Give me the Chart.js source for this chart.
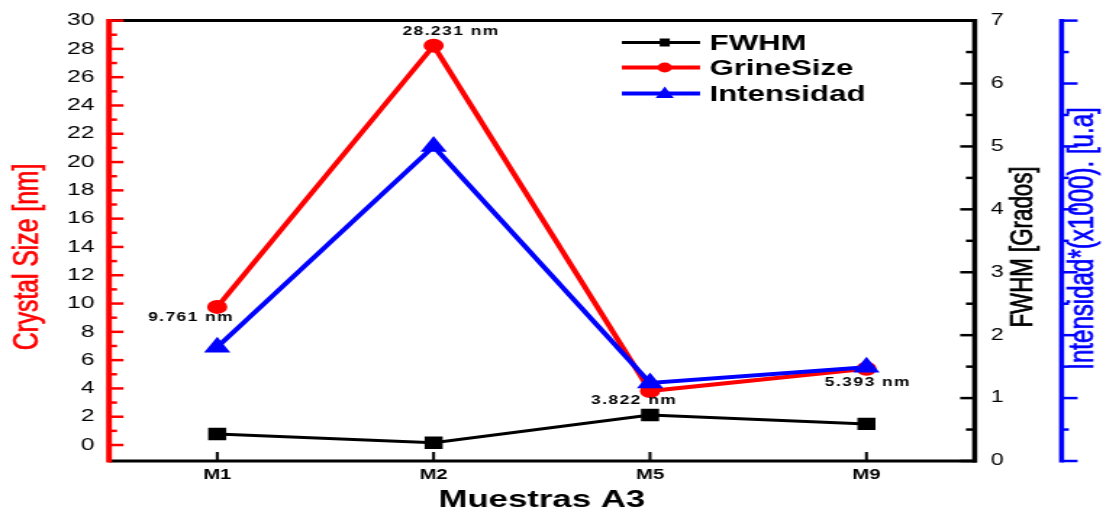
<!DOCTYPE html>
<html>
<head>
<meta charset="utf-8">
<script src="https://cdn.jsdelivr.net/npm/chart.js@4.4.1/dist/chart.umd.min.js"></script>
<style>
  html, body { margin: 0; padding: 0; background: #fff; overflow: hidden; }
  /* the figure is laid out narrow and stretched sideways, like the exported plot */
  #wrap { width: 763px; height: 512px; transform-origin: 0 0; transform: scaleX(1.4495); }
</style>
</head>
<body>
<div id="wrap"><canvas id="chart" width="763" height="512"></canvas></div>
<script>
// Muestras A3
const samples = ['M1', 'M2', 'M5', 'M9'];
const fwhm = [0.43, 0.29, 0.73, 0.59];            // grados
const grainSize = [9.761, 28.231, 3.822, 5.393];  // nm
const intensity = [1.81, 5.0, 1.24, 1.49];        // u.a. (x1000)

// offsets of the nm annotations from their point
const labelDx = [-18, 12, -11, 1];
const labelDy = [14, -11, 13, 17];

const FONT = "'Liberation Sans', Arial, sans-serif";
const RED = '#ff0000';
const BLUE = '#0000ff';
const BLACK = '#000000';

function seg(ctx, x1, y1, x2, y2, color, w) {
    ctx.beginPath();
    ctx.strokeStyle = color;
    ctx.lineWidth = w;
    ctx.moveTo(x1, y1);
    ctx.lineTo(x2, y2);
    ctx.stroke();
}

function vText(ctx, text, x, y, size, color, squeeze) {
    ctx.save();
    ctx.translate(x, y);
    ctx.rotate(-Math.PI / 2);
    ctx.scale(1, squeeze);
    ctx.font = size + 'px ' + FONT;
    ctx.fillStyle = color;
    ctx.strokeStyle = color;
    ctx.lineWidth = 0.6;
    ctx.textAlign = 'center';
    ctx.textBaseline = 'middle';
    ctx.fillText(text, 0, 0);
    ctx.strokeText(text, 0, 0);
    ctx.restore();
}

function marker(ctx, style, x, y, color) {
    ctx.fillStyle = color;
    ctx.beginPath();
    if (style === 'rect') {
        ctx.rect(x - 3.5, y - 4, 7, 8);
    } else if (style === 'circle') {
        ctx.arc(x, y, 5, 0, Math.PI * 2);
    } else {
        ctx.moveTo(x, y - 7);
        ctx.lineTo(x + 6.3, y + 4.5);
        ctx.lineTo(x - 6.3, y + 4.5);
        ctx.closePath();
    }
    ctx.fill();
}

// axes frame, inward ticks, titles, legend and value annotations
const decor = {
    id: 'decor',
    afterDraw(chart) {
        const { ctx, chartArea: a, scales } = chart;
        const xs = scales.x, ys = scales.y, yf = scales.y2, yi = scales.y3;
        ctx.save();
        ctx.lineCap = 'butt';

        // top / bottom
        seg(ctx, a.left, a.top, a.right + 1.5, a.top, BLACK, 3);
        seg(ctx, a.left, a.bottom, a.right + 1.5, a.bottom, BLACK, 3);
        xs.ticks.forEach((t, i) => {
            const x = xs.getPixelForTick(i);
            seg(ctx, x, a.bottom, x, a.bottom - 9, BLACK, 2);
        });

        // FWHM axis (right)
        yf.ticks.forEach(t => {
            const y = yf.getPixelForValue(t.value);
            seg(ctx, a.right, y, a.right - 10, y, BLACK, 2.5);
            if (t.value < yf.max) {
                const ym = yf.getPixelForValue(t.value + 0.5);
                seg(ctx, a.right, ym, a.right - 6, ym, BLACK, 2.5);
            }
        });
        seg(ctx, a.right, a.top - 1.5, a.right, a.bottom + 1.5, BLACK, 3.5);

        // intensity axis (offset, no labels)
        const bx = a.right + 60;
        yi.ticks.forEach(t => {
            const y = yi.getPixelForValue(t.value);
            seg(ctx, bx, y, bx + 11, y, BLUE, 2.5);
            if (t.value < yi.max) {
                const ym = yi.getPixelForValue(t.value + 0.5);
                seg(ctx, bx, ym, bx + 5, ym, BLUE, 2.5);
            }
        });
        seg(ctx, bx, a.top - 1.5, bx, a.bottom + 1.5, BLUE, 3.5);

        // crystal size axis (left)
        ys.ticks.forEach(t => {
            const y = ys.getPixelForValue(t.value);
            seg(ctx, a.left, y, a.left + 10, y, RED, 2.5);
            if (t.value < ys.max) {
                const ym = ys.getPixelForValue(t.value + 1);
                seg(ctx, a.left, ym, a.left + 5.5, ym, RED, 2.5);
            }
        });
        seg(ctx, a.left, a.top - 1.5, a.left, a.bottom + 1.5, RED, 4);

        // axis titles
        vText(ctx, 'Crystal Size [nm]', 19.3, 257, 24.7, RED, 0.95);
        vText(ctx, 'FWHM [Grados]', 706, 247, 22.3, BLACK, 0.95);
        vText(ctx, 'Intensidad*(x1000). [u.a]', 747.6, 238.5, 24.1, BLUE, 0.97);

        ctx.font = 'bold 24px ' + FONT;
        ctx.fillStyle = BLACK;
        ctx.textAlign = 'center';
        ctx.textBaseline = 'alphabetic';
        ctx.fillText('Muestras A3', (a.left + a.right) / 2, 507);

        // legend
        const rows = [
            { text: 'FWHM', color: BLACK, style: 'rect', w: 3, y: 42.5 },
            { text: 'GrineSize', color: RED, style: 'circle', w: 4, y: 67.5 },
            { text: 'Intensidad', color: BLUE, style: 'triangle', w: 4, y: 93.5 }
        ];
        rows.forEach(r => {
            seg(ctx, 429, r.y, 483, r.y, r.color, r.w);
            marker(ctx, r.style, 458.6, r.y, r.color);
            ctx.font = 'bold 21.5px ' + FONT;
            ctx.fillStyle = BLACK;
            ctx.textAlign = 'left';
            ctx.fillText(r.text, 489.5, r.y + 7);
        });

        // nm annotations on the grain size series
        ctx.font = 'bold 12px ' + FONT;
        ctx.letterSpacing = '1px';
        ctx.textAlign = 'center';
        grainSize.forEach((v, i) => {
            const x = xs.getPixelForValue(i) + labelDx[i];
            const y = ys.getPixelForValue(v) + labelDy[i];
            ctx.fillText(v.toFixed(3) + ' nm', x, y);
        });
        ctx.restore();
    }
};

const hiddenGrid = { display: false, drawTicks: false };

new Chart(document.getElementById('chart'), {
    type: 'line',
    data: {
        labels: samples,
        datasets: [
            {
                label: 'FWHM',
                data: fwhm,
                yAxisID: 'y2',
                borderColor: BLACK,
                backgroundColor: BLACK,
                borderWidth: 3,
                pointStyle: 'rect',
                pointRadius: 6.7,
                order: 2
            },
            {
                label: 'GrineSize',
                data: grainSize,
                yAxisID: 'y',
                borderColor: RED,
                backgroundColor: RED,
                borderWidth: 4,
                pointStyle: 'circle',
                pointRadius: 5,
                order: 1
            },
            {
                label: 'Intensidad',
                data: intensity,
                yAxisID: 'y3',
                borderColor: BLUE,
                backgroundColor: BLUE,
                borderWidth: 4,
                pointStyle: 'triangle',
                pointRadius: 6.5,
                order: 0
            }
        ]
    },
    options: {
        responsive: false,
        animation: false,
        layout: { padding: { top: 20, left: 0, right: 0, bottom: 0 } },
        elements: {
            line: { tension: 0 },
            point: { borderWidth: 0, hoverRadius: 6 }
        },
        plugins: {
            legend: { display: false },
            tooltip: { enabled: false }
        },
        scales: {
            x: {
                type: 'category',
                offset: true,
                grid: { ...hiddenGrid, offset: true },
                border: { display: false },
                ticks: {
                    color: BLACK,
                    padding: 6,
                    font: { family: FONT, size: 14, weight: 'bold' },
                    maxRotation: 0
                },
                afterFit(scale) { scale.height = 51; }
            },
            y: {
                position: 'left',
                min: -1.13,
                max: 30,
                grid: hiddenGrid,
                border: { display: false },
                ticks: {
                    color: BLACK,
                    padding: 10,
                    font: { family: FONT, size: 17 }
                },
                afterBuildTicks(scale) {
                    const ticks = [];
                    for (let v = 0; v <= scale.max; v += 2) ticks.push({ value: v });
                    scale.ticks = ticks;
                },
                afterFit(scale) { scale.width = 75.2; }
            },
            y2: {
                position: 'right',
                min: 0,
                max: 7,
                grid: hiddenGrid,
                border: { display: false },
                ticks: {
                    stepSize: 1,
                    color: BLACK,
                    padding: 11,
                    font: { family: FONT, size: 16 }
                },
                afterFit(scale) { scale.width = 90.6; }
            },
            y3: {
                position: 'right',
                display: false,
                min: 0,
                max: 7,
                ticks: { stepSize: 1 }
            }
        }
    },
    plugins: [decor]
});
</script>
</body>
</html>
